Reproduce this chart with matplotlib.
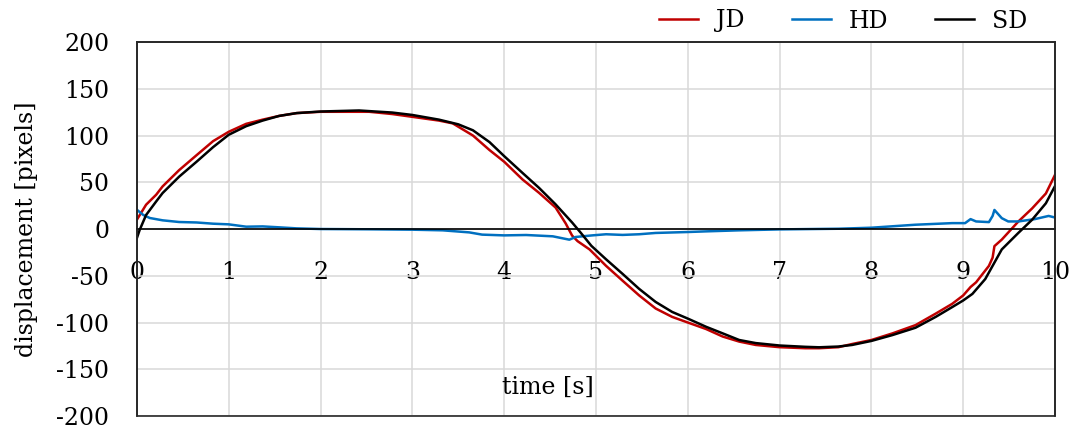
import matplotlib
matplotlib.use("Agg")
import matplotlib.pyplot as plt
from matplotlib.patches import Rectangle

plt.rcParams["font.family"] = ["DejaVu Serif"]
plt.rcParams["axes.unicode_minus"] = False

# values
t_jd = [0.0, 0.1, 0.21, 0.28, 0.46, 0.65, 0.83, 1.0, 1.19, 1.37, 1.55, 1.74,
        2.0, 2.53, 2.78, 3.0, 3.29, 3.44, 3.66, 3.84, 4.0, 4.2, 4.38, 4.56,
        4.67, 4.74, 4.8, 4.93, 5.11, 5.29, 5.47, 5.65, 5.83, 6.0, 6.2, 6.38,
        6.56, 6.74, 7.0, 7.28, 7.43, 7.64, 7.79, 8.0, 8.23, 8.48, 8.7, 8.88,
        9.0, 9.08, 9.14, 9.28, 9.32, 9.34, 9.42, 9.6, 9.75, 9.9, 10.0]
jd = [10, 26, 36.7, 45.6, 63, 79, 94, 104, 112.5, 117, 121, 124,
      125.4, 125.4, 123, 120, 116, 113, 100, 84.5, 72, 53, 38.7, 23,
      6, -7, -13, -21.8, -39.4, -55.3, -71, -85, -94, -100, -107, -115,
      -120.4, -124, -126.4, -127.5, -127.5, -126.4, -123, -118.7, -111.6, -102.8, -90.5, -80,
      -71, -62, -57, -39.4, -30.6, -18.3, -11.3, 8, 22, 38, 58]

t_hd = [0.0, 0.07, 0.14, 0.28, 0.46, 0.65, 0.83, 1.0, 1.19, 1.37, 1.55, 1.74,
        2.0, 2.53, 3.0, 3.33, 3.62, 3.76, 4.0, 4.24, 4.53, 4.71, 4.78, 4.96,
        5.11, 5.29, 5.47, 5.65, 6.0, 6.2, 6.56, 7.0, 7.64, 8.0, 8.48, 8.88,
        9.02, 9.08, 9.14, 9.28, 9.32, 9.34, 9.42, 9.49, 9.6, 9.78, 9.93, 10.0]
hd = [20.6, 15, 11.8, 9.3, 7.5, 7, 5.7, 5, 2.5, 2.8, 1.8, 0.7,
      0, -0.3, -0.7, -1.4, -3.6, -6, -6.8, -6.4, -7.8, -11.4, -8.5, -6.8,
      -5.6, -6.3, -5.6, -4.2, -3.2, -2.5, -1.4, -0.4, 0.3, 1.4, 4.6, 6.3,
      6.3, 10.6, 8.1, 7.4, 14, 20.4, 11.6, 8.1, 8.1, 10.6, 14, 12.3]

t_sd = [0.0, 0.03, 0.1, 0.21, 0.28, 0.46, 0.65, 0.83, 1.0, 1.19, 1.37, 1.55,
        1.74, 2.0, 2.42, 2.78, 3.0, 3.29, 3.5, 3.66, 3.84, 4.0, 4.2, 4.38,
        4.56, 4.74, 4.83, 4.95, 5.11, 5.29, 5.47, 5.65, 5.83, 6.0, 6.2, 6.38,
        6.56, 6.74, 7.0, 7.28, 7.43, 7.64, 7.79, 8.0, 8.23, 8.48, 8.7, 8.88,
        9.0, 9.1, 9.24, 9.32, 9.42, 9.6, 9.75, 9.9, 10.0]
sd = [-9.6, -1, 15, 29.5, 38.5, 56, 72, 87.6, 100.8, 110, 116, 121,
      124, 125.7, 126.8, 124.6, 122, 117, 112, 105.6, 93, 78, 60, 44,
      26.4, 7, -3.5, -18, -32.4, -48, -64, -78, -88.7, -95.8, -104.6, -111.6,
      -118.7, -122, -124.6, -126, -126.5, -125.7, -124, -119.7, -113.4, -105.6, -94, -83.5,
      -76.4, -69.4, -53.5, -39.4, -21.8, -4.2, 9.9, 27.5, 46]

x_ticks = list(range(0, 11))
y_ticks = list(range(-200, 201, 50))

fig = plt.figure(figsize=(10.78, 4.29), dpi=100)
ax = fig.add_axes([0.127, 0.0303, 0.8517, 0.8717])

ax.plot(t_jd, jd, color="#C00000", lw=1.8, label="JD")
ax.plot(t_hd, hd, color="#0070C0", lw=1.8, label="HD")
ax.plot(t_sd, sd, color="black", lw=1.8, label="SD")

ax.set_xlim(0, 10)
ax.set_ylim(-200, 200)
ax.set_xticks(x_ticks)
ax.set_yticks(y_ticks)
ax.grid(True, color="#d9d9d9", lw=1.1)
ax.set_axisbelow(True)
ax.tick_params(axis="x", length=0, pad=23, labelsize=17)
ax.tick_params(axis="y", length=0, pad=20, labelsize=17)
for s in ax.spines.values():
    s.set_color("#262626")
    s.set_linewidth(1.2)

# x axis crosses at y = 0; keep a full frame round the plot area
ax.spines["bottom"].set_position(("data", 0))
ax.spines["bottom"].set_color("black")
ax.add_patch(Rectangle((0, 0), 1, 1, transform=ax.transAxes, fill=False,
                       edgecolor="#262626", lw=1.2, clip_on=False, zorder=3))

ax.text(0.448, 0.078, "time [s]", transform=ax.transAxes,
        ha="center", va="center", fontsize=17)
ax.set_ylabel("displacement [pixels]", fontsize=17)
ax.yaxis.set_label_coords(-0.108, 0.5)

fig.legend(loc="center right", bbox_to_anchor=(1027 / 1078, 1 - 21 / 429),
           ncol=3, frameon=False, fontsize=17, handlelength=1.65,
           handletextpad=0.75, columnspacing=2.0, borderpad=0,
           borderaxespad=0)

plt.savefig("out.png", dpi=100)
